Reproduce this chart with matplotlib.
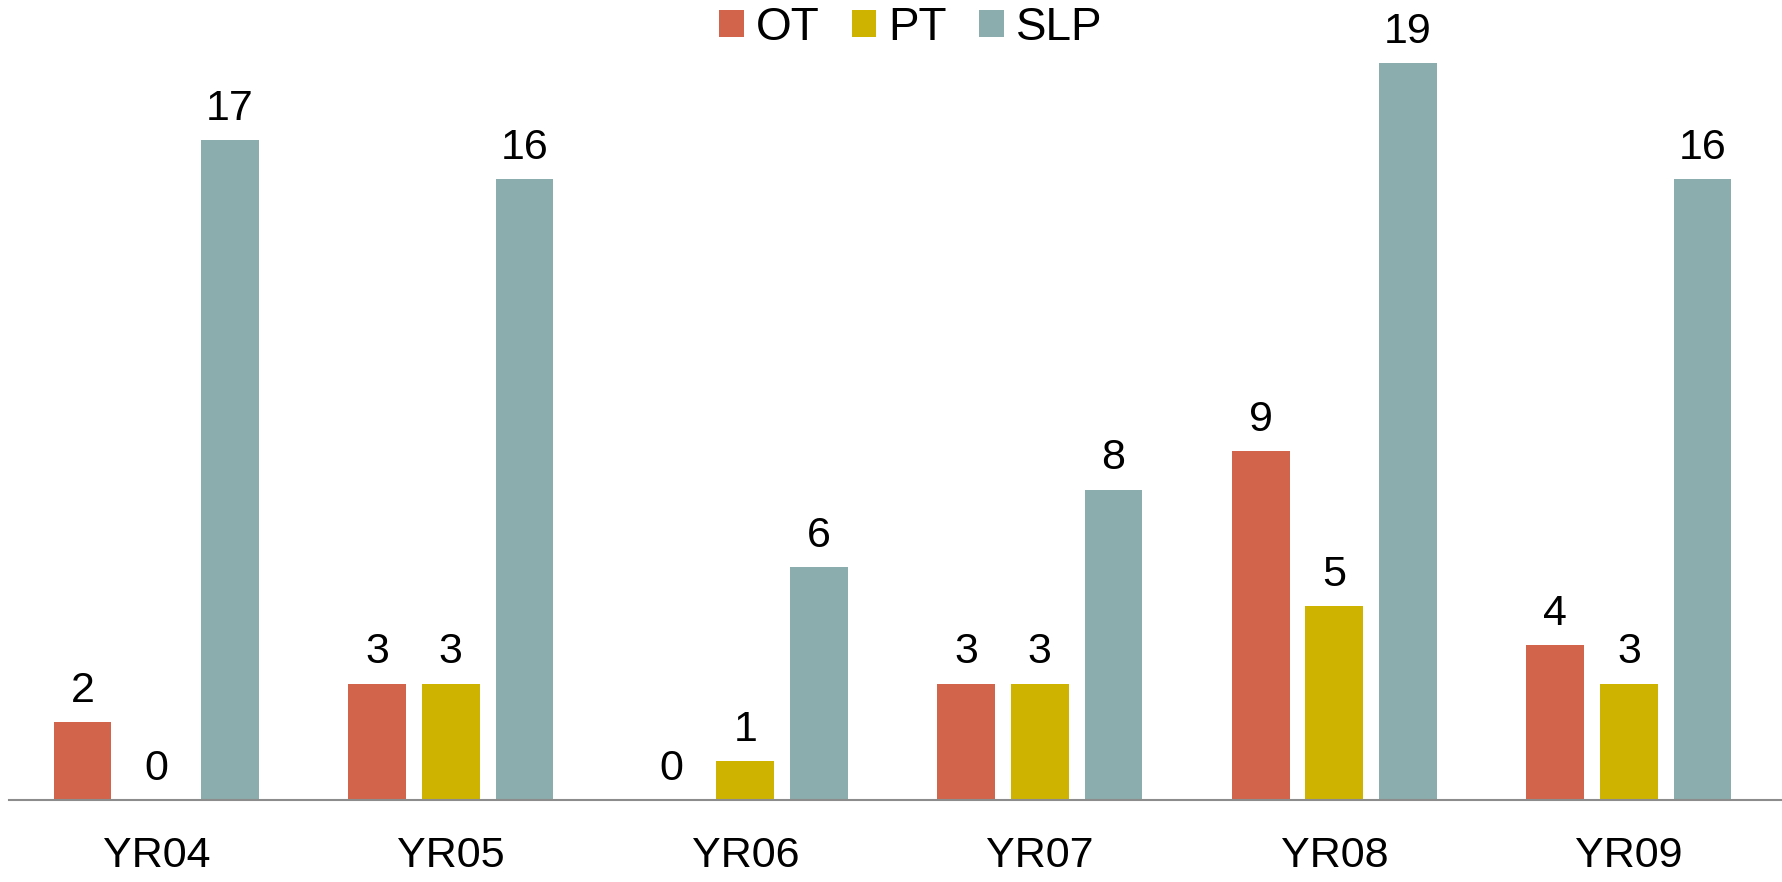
import numpy as np
import matplotlib.pyplot as plt

plt.rcParams['font.family'] = ['Liberation Sans', 'DejaVu Sans']

# data
years = ['YR04', 'YR05', 'YR06', 'YR07', 'YR08', 'YR09']
ot = [2, 3, 0, 3, 9, 4]
pt = [0, 3, 1, 3, 5, 3]
slp = [17, 16, 6, 8, 19, 16]

series = [('OT', ot, '#D2644B'), ('PT', pt, '#CEB400'), ('SLP', slp, '#8BADAD')]

fig = plt.figure(figsize=(17.82, 8.82), dpi=100)
ax = fig.add_axes([9 / 1782, 82 / 882, 1 - 9 / 1782, 776 / 882])

x = np.arange(len(years))
width = 0.196
offsets = [-0.25, 0, 0.25]

for (name, vals, color), off in zip(series, offsets):
    bars = ax.bar(x + off, vals, width, color=color, label=name)
    for b, v in zip(bars, vals):
        ax.annotate(str(v), (b.get_x() + b.get_width() / 2, v),
                    xytext=(0, 8), textcoords='offset points',
                    ha='center', va='bottom', fontsize=31)

ax.set_ylim(0, 20)
ax.set_xlim(-0.5, 5.52)
ax.set_xticks(x)
ax.set_xticklabels(years, fontsize=31)
ax.tick_params(axis='x', length=0, pad=26)
ax.set_yticks([])
for s in ['top', 'right', 'left']:
    ax.spines[s].set_visible(False)
ax.spines['bottom'].set_color('#8C8C8C')
ax.spines['bottom'].set_linewidth(1.5)

fig.legend(loc='center', bbox_to_anchor=(0.511, 1 - 28 / 882), ncol=3,
           frameon=False, fontsize=33, handlelength=0.54, handleheight=0.54,
           handletextpad=0.26, columnspacing=0.7, borderpad=0)

fig.savefig('out.png', dpi=100)
